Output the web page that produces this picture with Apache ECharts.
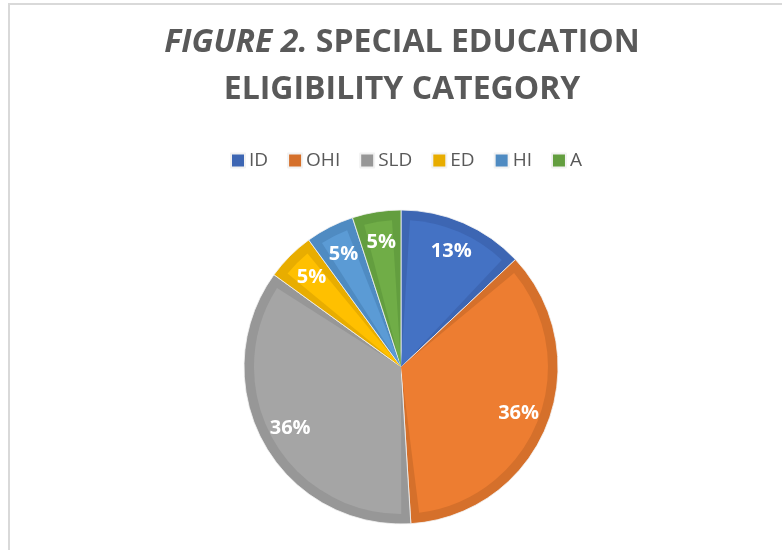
<!DOCTYPE html>
<html>
<head>
<meta charset="utf-8">
<script src="https://cdn.jsdelivr.net/npm/echarts@6/dist/echarts.min.js"></script>
<style>
  html, body { margin: 0; padding: 0; background: #fff; }
  #chart { width: 782px; height: 550px; }
</style>
</head>
<body>
<div id="chart"></div>
<script>
// categories and shares (percent), clockwise from 12 o'clock
const categories = ['ID', 'OHI', 'SLD', 'ED', 'HI', 'A'];
const shares = [13, 36, 36, 5, 5, 5];

// fill colours (inner) and edge colours (outer ring / legend)
const fillColors = ['#4472C4', '#ED7D31', '#A5A5A5', '#FFC000', '#5B9BD5', '#70AD47'];
const edgeColors = ['#3D66B3', '#D5702B', '#979797', '#E8AD00', '#4F8BC2', '#639E3F'];

const FONT = '"Open Sans", "Noto Sans", sans-serif';
const center = [401, 367];

const chart = echarts.init(document.getElementById('chart'), null, { renderer: 'canvas' });

function makeData(colors) {
  return categories.map((name, i) => ({
    name: name,
    value: shares[i],
    itemStyle: { color: colors[i] }
  }));
}

const option = {
  animation: false,
  backgroundColor: '#fff',
  title: {
    text: '{i|FIGURE 2.} SPECIAL EDUCATION\nELIGIBILITY CATEGORY',
    left: 397,
    textAlign: 'center',
    top: 14,
    textStyle: {
      fontFamily: FONT,
      fontSize: 32,
      fontWeight: 'bold',
      color: '#595959',
      lineHeight: 47,
      rich: {
        i: {
          fontFamily: FONT,
          fontSize: 32,
          fontWeight: 'bold',
          fontStyle: 'italic',
          color: '#595959',
          lineHeight: 47
        }
      }
    }
  },
  legend: {
    data: categories,
    top: 146,
    left: 225,
    itemWidth: 14,
    itemHeight: 14,
    itemGap: 19,
    icon: 'rect',
    textStyle: { fontFamily: FONT, fontSize: 19, color: '#595959', padding: [0, 0, 0, -1] }
  },
  color: edgeColors,
  graphic: [{
    type: 'rect',
    silent: true,
    shape: { x: 9, y: 4, width: 900, height: 700 },
    style: { fill: 'none', stroke: '#d9d9d9', lineWidth: 2 }
  }],
  series: [
    {
      // darker rim of every slice
      type: 'pie',
      radius: [0, 157],
      center: center,
      startAngle: 90,
      clockwise: true,
      silent: true,
      label: { show: false },
      labelLine: { show: false },
      itemStyle: { borderColor: '#f2f2f2', borderWidth: 0.8 },
      data: makeData(edgeColors)
    },
    {
      // lighter inner face
      type: 'pie',
      radius: [0, 147],
      center: center,
      startAngle: 90,
      clockwise: true,
      padAngle: 7,
      silent: true,
      legendHoverLink: false,
      label: { show: false },
      labelLine: { show: false },
      data: makeData(fillColors)
    },
    {
      // percentage labels, placed further out than the default
      type: 'pie',
      radius: [90, 157],
      center: center,
      startAngle: 90,
      clockwise: true,
      silent: true,
      legendHoverLink: false,
      itemStyle: { color: 'rgba(0,0,0,0)' },
      label: {
        show: true,
        position: 'inside',
        formatter: '{c}%',
        fontFamily: FONT,
        fontSize: 20,
        fontWeight: 'bold',
        color: '#fff'
      },
      labelLine: { show: false },
      data: categories.map((name, i) => ({ name: name, value: shares[i] }))
    }
  ]
};

chart.setOption(option);
</script>
</body>
</html>
